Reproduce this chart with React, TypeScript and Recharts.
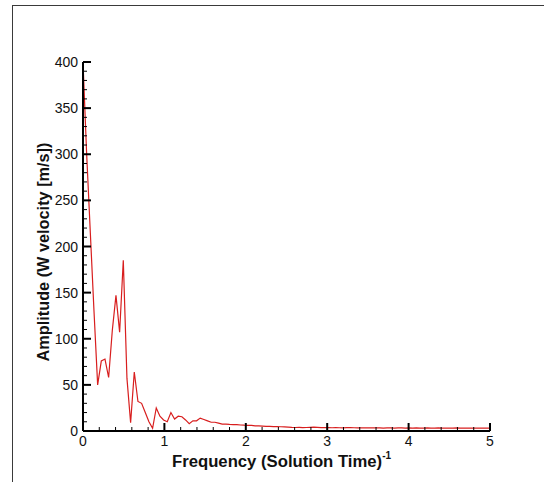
import React from 'react';
import { LineChart, Line, XAxis, YAxis } from 'recharts';

// FFT bin spacing (Hz-equivalent, in 1/solution time)
const FREQ_STEP = 0.045;

// amplitude per frequency bin
const AMPLITUDE = [
  400, 300, 215, 130, 50, 76, 78, 58, 109, 147,
  107, 185, 57, 9, 64, 32, 30, 20, 10, 3,
  25, 16, 12, 10, 20, 13, 16, 15.5, 12, 8,
  11, 11, 14, 12.5, 11, 9.5, 9.5, 8.5, 7.5, 7.5,
  7.2, 7, 7, 6.5, 6.3, 6.2, 6, 5.6, 5.5, 5.3,
  5, 5, 4.8, 4.9, 4.6, 4.5, 4.3, 4, 3.8, 3.9,
  3.7, 3.8, 4, 4.2, 4, 3.7, 3.6, 3.7, 3.5, 3.6,
  3.5, 3.4, 3.6, 3.7, 3.5, 3.4, 3.3, 3.4, 3.5, 3.3,
  3.4, 3.3, 3.2, 3.4, 3.3, 3.2, 3.3, 3.4, 3.2, 3.3,
  3.2, 3.3, 3.2, 3.1, 3.3, 3.2, 3.2, 3.3, 3.1, 3.2,
  3.2, 3.1, 3.3, 3.2, 3.1, 3.2, 3.2, 3.1, 3.2, 3.1,
  3.2, 3.1,
];

const X_TICKS = [
  0, 0.2, 0.4, 0.6, 0.8, 1, 1.2, 1.4, 1.6, 1.8, 2, 2.2, 2.4, 2.6, 2.8,
  3, 3.2, 3.4, 3.6, 3.8, 4, 4.2, 4.4, 4.6, 4.8, 5,
];
const Y_TICKS = [
  0, 10, 20, 30, 40, 50, 60, 70, 80, 90, 100, 110, 120, 130, 140, 150,
  160, 170, 180, 190, 200, 210, 220, 230, 240, 250, 260, 270, 280, 290, 300,
  310, 320, 330, 340, 350, 360, 370, 380, 390, 400,
];

const X_TITLE = 'Frequency (Solution Time)';
const X_TITLE_SUP = '-1';
const Y_TITLE = 'Amplitude (W velocity [m/s])';

const data = AMPLITUDE.map((a, i) => ({ f: +(i * FREQ_STEP).toFixed(3), a }));

const FONT = '"Liberation Sans", Arial, sans-serif';

const XTick = (props: any) => {
  const { x, y, payload } = props;
  const v = payload.value;
  const major = Math.abs(v - Math.round(v)) < 1e-6;
  return (
    <g>
      <line x1={x} x2={x} y1={y} y2={y - (major ? 8 : 4)} stroke="#000" strokeWidth={major ? 2 : 1} />
      {major && (
        <text x={x} y={y + 15} textAnchor="middle" fontSize={14} fontFamily={FONT} fill="#111">
          {v}
        </text>
      )}
    </g>
  );
};

const YTick = (props: any) => {
  const { x, y, payload } = props;
  const v = payload.value;
  const major = v % 50 === 0;
  return (
    <g>
      <line x1={x} x2={x + (major ? 8 : 4)} y1={y} y2={y} stroke="#000" strokeWidth={major ? 2 : 1} />
      {major && (
        <text x={x - 5} y={y} dy="0.36em" textAnchor="end" fontSize={14} fontFamily={FONT} fill="#111">
          {v}
        </text>
      )}
    </g>
  );
};

export default function App() {
  return (
    <div style={{ position: 'absolute', left: 0, top: 0, width: 544, height: 482, background: '#fff' }}>
      {/* outer frame */}
      <div
        style={{
          position: 'absolute',
          left: 12,
          top: 5,
          width: 540,
          height: 490,
          borderTop: '1px solid #3a3a3a',
          borderLeft: '1px solid #3a3a3a',
        }}
      />
      <div style={{ position: 'absolute', left: 0, top: 0 }}>
        <LineChart width={544} height={482} data={data} margin={{ top: 62, right: 54, bottom: 10, left: 0 }}>
          <XAxis
            dataKey="f"
            type="number"
            domain={[0, 5]}
            ticks={X_TICKS}
            interval={0}
            height={41}
            tickSize={0}
            tickMargin={0}
            tickLine={false}
            tick={<XTick />}
            axisLine={{ stroke: '#000', strokeWidth: 2 }}
          />
          <YAxis
            type="number"
            domain={[0, 400]}
            ticks={Y_TICKS}
            interval={0}
            width={83}
            tickSize={0}
            tickMargin={0}
            tickLine={false}
            tick={<YTick />}
            axisLine={{ stroke: '#000', strokeWidth: 2 }}
          />
          <Line
            type="linear"
            dataKey="a"
            stroke="#d81e1e"
            strokeWidth={1.2}
            dot={false}
            isAnimationActive={false}
          />
        </LineChart>
      </div>
      {/* axis titles */}
      <svg width={544} height={482} style={{ position: 'absolute', left: 0, top: 0, pointerEvents: 'none' }}>
        <text x={172} y={467} fontSize={16.7} fontWeight="bold" fontFamily={FONT} fill="#111">
          {X_TITLE}
          <tspan fontSize={10} dy={-8}>{X_TITLE_SUP}</tspan>
        </text>
        <text
          x={49}
          y={252}
          transform="rotate(-90 49 252)"
          textAnchor="middle"
          fontSize={16.3}
          fontWeight="bold"
          fontFamily={FONT}
          fill="#111"
        >
          {Y_TITLE}
        </text>
      </svg>
    </div>
  );
}
